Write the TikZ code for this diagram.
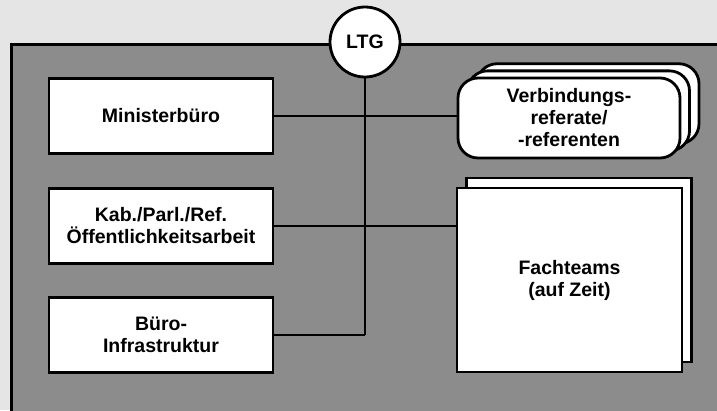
\documentclass[tikz,border=0pt]{standalone}
\usepackage{fontspec}
\setmainfont{Liberation Sans}
\usetikzlibrary{shadows}

\tikzset{
  unit/.style={draw, fill=white, line width=2.8pt, align=center,
    font=\fontsize{19.5}{22}\selectfont\bfseries,
    minimum width=224pt, minimum height=75pt, inner sep=0pt},
  layer/.style={shadow xshift=#1, shadow yshift=#1*0.75, fill=white,
    draw=black, line width=2.8pt},
  wire/.style={line width=2.4pt}
}

\begin{document}
\begin{tikzpicture}[x=1pt, y=-1pt]
\useasboundingbox (0,0) rectangle (717,410);
\clip (0,0) rectangle (717,410);
\fill [black!10] (0,0) rectangle (717,410);
\draw [line width=3pt, fill=black!45] (11,44) rectangle (740,430);

\node [unit] (minister) at (161,116) {Ministerb\"uro};
\node [unit] (kab) at (161,226) {Kab./Parl./Ref.\\\"Offentlichkeitsarbeit};
\node [unit] (buero) at (161,335) {B\"uro-\\Infrastruktur};

\node [unit, minimum width=222pt, minimum height=80pt, rounded corners=20pt,
  copy shadow={layer=19pt}, copy shadow={layer=9.5pt}] (verb) at (569,118)
  {Verbindungs-\\referate/\\-referenten};
\node [unit, minimum width=225pt, minimum height=184pt,
  copy shadow={shadow xshift=9.5pt, shadow yshift=10pt, fill=white,
    draw=black, line width=2.8pt}] (fach) at (569.5,280)
  {Fachteams\\(auf Zeit)};

\node [unit, circle, minimum width=70pt, minimum height=70pt] (ltg) at (365,42) {LTG};

\coordinate (bus) at (ltg.south |- buero.east);
\draw [wire] (ltg.south) -- (bus);
\draw [wire] (minister.east) -- (minister.east -| verb.west);
\draw [wire] (kab.east) -- (kab.east -| fach.west);
\draw [wire] (buero.east) -- (bus);
\end{tikzpicture}
\end{document}
